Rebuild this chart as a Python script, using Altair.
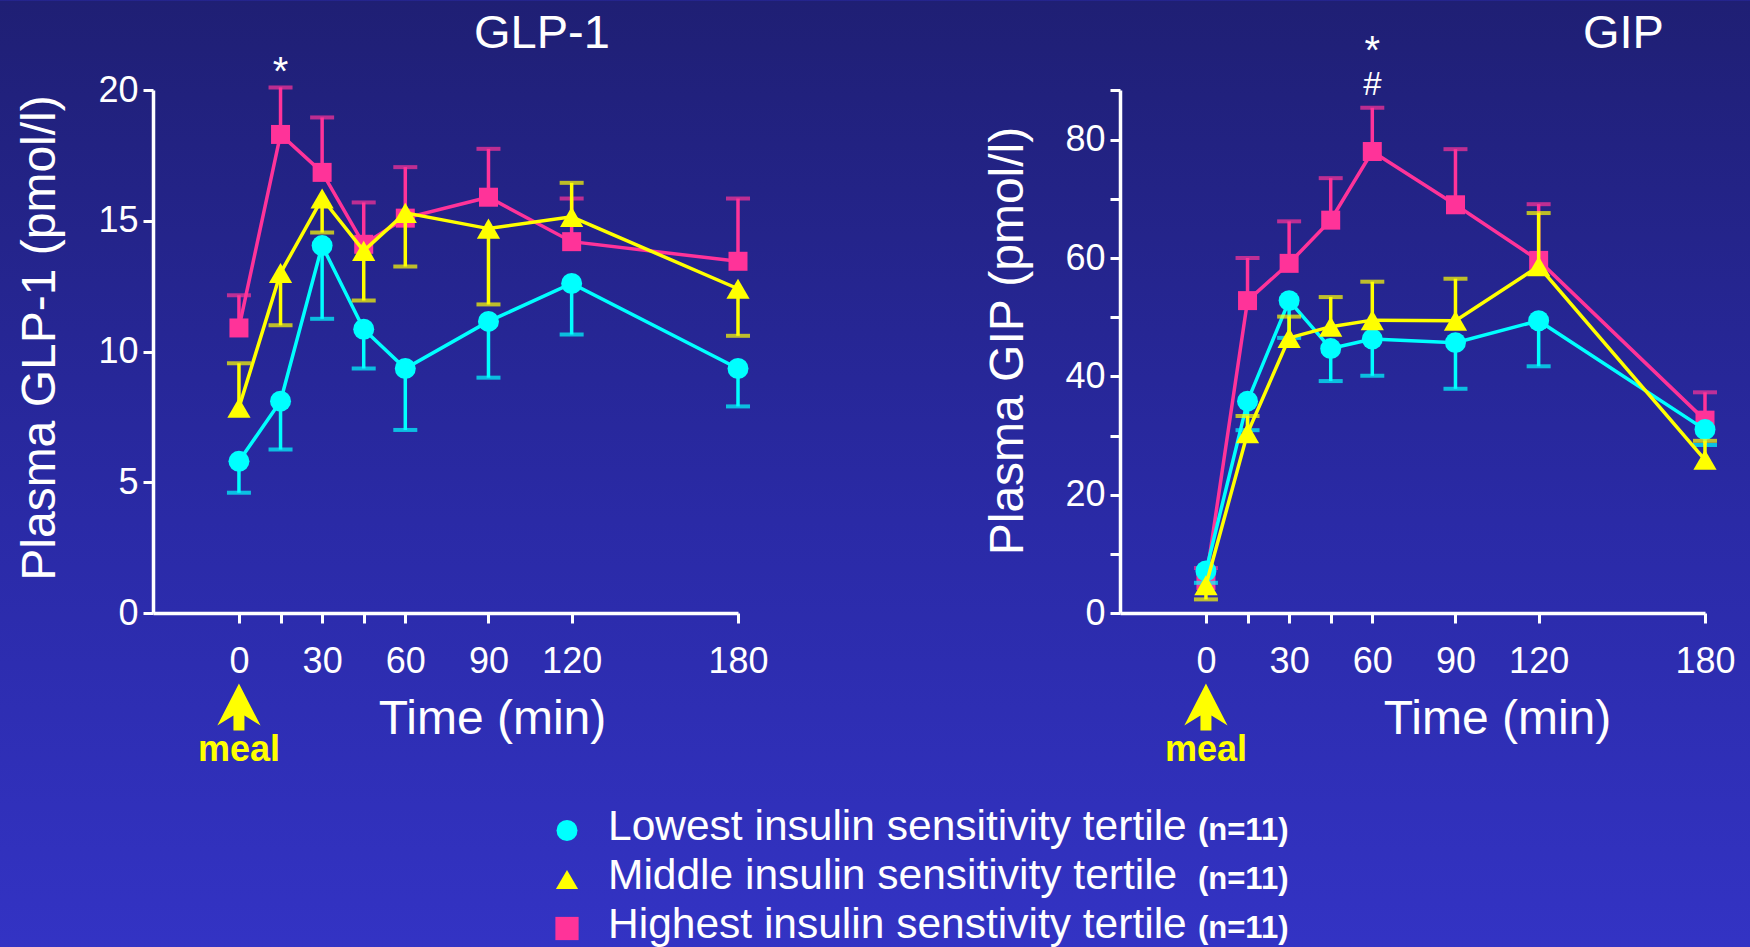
import altair as alt
import pandas as pd

# ---- data -----------------------------------------------------------------
times = [0, 15, 30, 45, 60, 90, 120, 180]

series_names = [
    "Lowest insulin sensitivity tertile",
    "Middle insulin sensitivity tertile",
    "Highest insulin senstivity tertile",
]
series_counts = ["(n=11)", "(n=11)", "(n=11)"]
series_colors = ["#00ffff", "#ffff00", "#ff3399"]
series_shapes = ["circle", "triangle-up", "square"]
marker_sizes = [440, 540, 361]

# GLP-1 (pmol/l): means and the end point of each error bar
glp1_lowest = [5.8, 8.1, 14.05, 10.85, 9.35, 11.15, 12.6, 9.35]
glp1_lowest_bar = [4.6, 6.25, 11.25, 9.35, 7.0, 9.0, 10.65, 7.9]
glp1_middle = [7.85, 13.0, 15.85, 13.85, 15.3, 14.7, 15.15, 12.4]
glp1_middle_bar = [9.55, 11.0, 14.55, 11.95, 13.25, 11.8, 16.45, 10.6]
glp1_highest = [10.9, 18.3, 16.85, 14.1, 15.1, 15.9, 14.2, 13.45]
glp1_highest_bar = [12.15, 20.1, 18.95, 15.7, 17.05, 17.75, 15.85, 15.85]

# GIP (pmol/l)
gip_lowest = [7.1, 35.8, 52.8, 44.7, 46.3, 45.7, 49.4, 31.0]
gip_lowest_bar = [5.1, 30.9, 46.5, 39.2, 40.1, 37.9, 41.7, 28.4]
gip_middle = [4.7, 30.4, 46.5, 48.4, 49.5, 49.4, 58.6, 25.9]
gip_middle_bar = [2.3, 33.3, 50.1, 53.4, 56.0, 56.5, 67.6, 29.1]
gip_highest = [5.5, 52.8, 59.1, 66.4, 78.0, 69.0, 59.6, 32.6]
gip_highest_bar = [7.6, 60.0, 66.2, 73.5, 85.4, 78.4, 69.1, 37.3]

glp1_ticks = [0, 5, 10, 15, 20]
gip_ticks = [0, 10, 20, 30, 40, 50, 60, 70, 80, 88.4]

# significance marks: (time, text)
glp1_marks = [(15, "*")]
gip_marks = [(60, "*"), (60, "#")]

# ---- layout constants -----------------------------------------------------
PANEL_W = 585
PANEL_H = 523
CANVAS_W = 1750
CANVAS_H = 947
LEFT_X = 153
TOP_Y = 89.5
FONT = "Liberation Sans"
LINE_W = 3.5

ARROW = "M0,-1L0.92,0.79L0.234,0.36L0.234,1L-0.234,1L-0.234,0.36L-0.92,0.79Z"

background = alt.LinearGradient(
    gradient="linear",
    stops=[
        alt.GradientStop(color="#1f1f74", offset=0),
        alt.GradientStop(color="#2a2aa6", offset=0.55),
        alt.GradientStop(color="#3333c4", offset=1),
    ],
    x1=0, x2=0, y1=0, y2=1,
)


def panel(title, y_title, y_top, y_ticks, y_label_expr, series, marks,
          title_x, x_title_x, y_title_x, y_title_y, with_background):
    x_axis = alt.Axis(
        values=times,
        labelExpr="datum.value == 15 || datum.value == 45 ? '' : datum.label",
        title="Time (min)",
        titleX=x_title_x,
        titleY=120.5,
        titleAlign="center",
        titleBaseline="alphabetic",
        labelPadding=21,
        zindex=2,
    )
    y_axis = alt.Axis(
        values=y_ticks,
        labelExpr=y_label_expr,
        title=y_title,
        titleAngle=270,
        titleX=y_title_x,
        titleY=y_title_y,
        titleAlign="center",
        titleBaseline="alphabetic",
        labelPadding=5,
        zindex=2,
    )
    x_scale = alt.Scale(domain=[-31, 180], nice=False, zero=False)
    y_scale = alt.Scale(domain=[0, y_top], nice=False, zero=False)

    def X():
        return alt.X("time:Q", scale=x_scale, axis=x_axis)

    layers = []
    if with_background:
        layers.append(
            alt.Chart(pd.DataFrame({"k": [0]}))
            .mark_rect(fill=background)
            .encode(
                x=alt.value(-LEFT_X),
                x2=alt.value(CANVAS_W - LEFT_X),
                y=alt.value(-TOP_Y),
                y2=alt.value(CANVAS_H - TOP_Y),
            )
        )

    # pink first, then cyan, yellow on top
    for i in [2, 0, 1]:
        values, ends = series[i]
        df = pd.DataFrame({"time": times, "value": values, "end": ends})
        base = alt.Chart(df)
        col = series_colors[i]
        layers.append(
            base.mark_rule(color=col, strokeWidth=LINE_W).encode(
                x=X(),
                y=alt.Y("value:Q", scale=y_scale, axis=y_axis),
                y2="end:Q",
            )
        )
        layers.append(
            base.mark_tick(color=col, orient="horizontal", size=24, thickness=4).encode(
                x=X(),
                y=alt.Y("end:Q", scale=y_scale, axis=y_axis),
            )
        )
        layers.append(
            base.mark_line(color=col, strokeWidth=LINE_W).encode(
                x=X(),
                y=alt.Y("value:Q", scale=y_scale, axis=y_axis),
            )
        )
        layers.append(
            base.mark_point(
                color=col, filled=True, opacity=1,
                shape=series_shapes[i], size=marker_sizes[i],
            ).encode(
                x=X(),
                y=alt.Y("value:Q", scale=y_scale, axis=y_axis),
            )
        )

    # significance marks above the highest-tertile error bar
    hi_values, hi_ends = series[2]
    for t, sym in marks:
        end = hi_ends[times.index(t)]
        if sym == "*":
            dy = -2 if len(marks) == 1 else -44
            size = 40
        else:
            dy = -13
            size = 33
        layers.append(
            alt.Chart(pd.DataFrame({"time": [t], "end": [end], "s": [sym]}))
            .mark_text(color="white", fontSize=size, baseline="alphabetic", dy=dy)
            .encode(
                x=X(),
                y=alt.Y("end:Q", scale=y_scale, axis=y_axis),
                text="s:N",
            )
        )

    # meal arrow under t = 0
    meal = pd.DataFrame({"time": [0], "label": ["meal"]})
    layers.append(
        alt.Chart(meal)
        .mark_point(shape=ARROW, size=2209, filled=True, opacity=1, color="#ffff00")
        .encode(x=X(), y=alt.value(617))
    )
    layers.append(
        alt.Chart(meal)
        .mark_text(color="#ffff00", fontSize=36, fontWeight="bold",
                   baseline="alphabetic", align="center")
        .encode(x=X(), y=alt.value(670.5), text="label:N")
    )

    # panel heading
    layers.append(
        alt.Chart(pd.DataFrame({"t": [title]}))
        .mark_text(color="white", fontSize=47, align="left", baseline="alphabetic")
        .encode(x=alt.value(title_x), y=alt.value(-42.5), text="t:N")
    )

    return alt.layer(*layers).properties(width=PANEL_W, height=PANEL_H)


glp1_panel = panel(
    "GLP-1", "Plasma GLP-1  (pmol/l)", 20, glp1_ticks, "datum.label",
    [(glp1_lowest, glp1_lowest_bar), (glp1_middle, glp1_middle_bar),
     (glp1_highest, glp1_highest_bar)],
    glp1_marks, 321, 339, -99, 247.5, True,
)

gip_panel = panel(
    "GIP", "Plasma GIP  (pmol/l)", 88.4, gip_ticks,
    "datum.value % 20 == 0 ? datum.label : ''",
    [(gip_lowest, gip_lowest_bar), (gip_middle, gip_middle_bar),
     (gip_highest, gip_highest_bar)],
    gip_marks, 463, 377, -98, 250.5, False,
)

# ---- key below the panels --------------------------------------------------
key_df = pd.DataFrame({"name": series_names, "n": series_counts})
row_y = alt.Y("name:N", scale=alt.Scale(type="point", domain=series_names, padding=0.3),
              axis=None)
key_base = alt.Chart(key_df)
key = alt.layer(
    key_base.mark_point(filled=True, opacity=1).encode(
        x=alt.value(414),
        y=row_y,
        shape=alt.Shape("name:N", scale=alt.Scale(domain=series_names, range=series_shapes),
                        legend=None),
        color=alt.Color("name:N", scale=alt.Scale(domain=series_names, range=series_colors),
                        legend=None),
        size=alt.Size("name:N", scale=alt.Scale(domain=series_names, range=marker_sizes),
                      legend=None),
    ),
    key_base.mark_text(color="white", fontSize=42.5, align="left", baseline="alphabetic",
                       dy=9).encode(x=alt.value(455), y=row_y, text="name:N"),
    key_base.mark_text(color="white", fontSize=31, fontWeight="bold", align="left",
                       baseline="alphabetic", dy=9).encode(x=alt.value(1045), y=row_y,
                                                          text="n:N"),
).properties(width=PANEL_W, height=127.4)

chart = (
    alt.concat(
        glp1_panel, gip_panel, key,
        columns=2,
        spacing={"row": 202.8, "column": 382},
        bounds="flush",
    )
    .properties(padding=0, background="#2a2aa6")
    .configure(font=FONT)
    .configure_view(strokeWidth=0)
    .configure_axis(
        grid=False,
        domainColor="white",
        domainWidth=3.5,
        tickColor="white",
        tickWidth=3,
        tickSize=10,
        labelColor="white",
        labelFontSize=36,
        labelFont=FONT,
        labelFlush=False,
        labelOverlap=False,
        titleColor="white",
        titleFont=FONT,
        titleFontSize=48,
        titleFontWeight="normal",
    )
)

chart.save("out.html", embed_options={"renderer": "svg", "actions": False})
